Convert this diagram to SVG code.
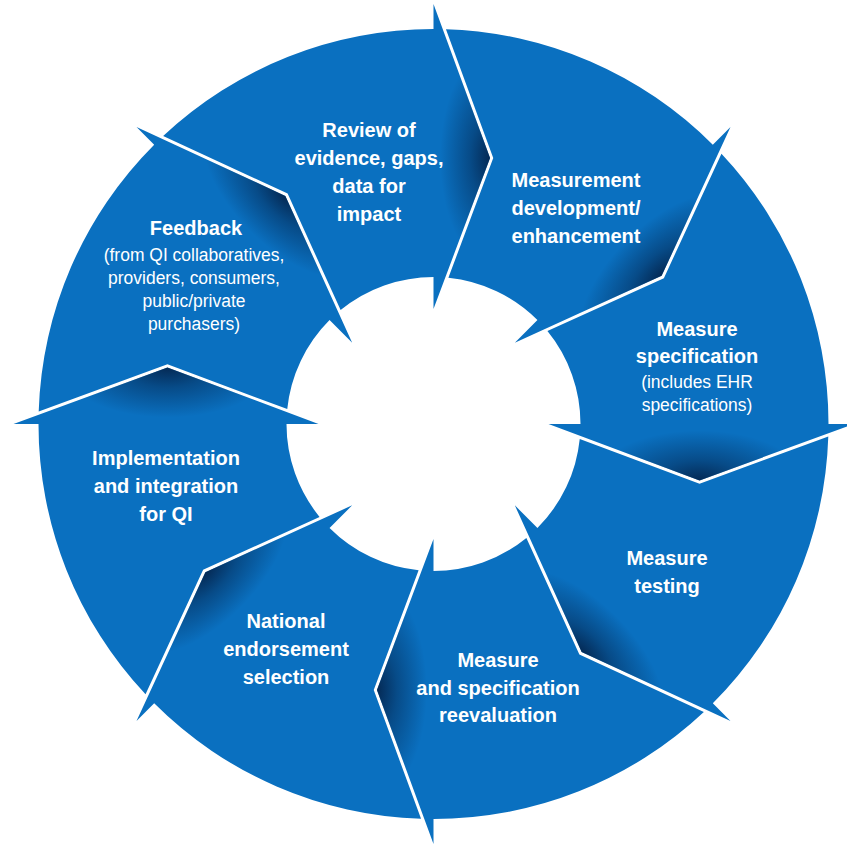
<svg xmlns="http://www.w3.org/2000/svg" width="847" height="845" viewBox="0 0 847 845">
<style>
.seg{fill:#0a70c0}
.shade{fill:url(#shade)}
.b{font-family:"Liberation Sans",Arial,sans-serif;font-weight:bold;font-size:20px;fill:#ffffff;text-anchor:middle}
.r{font-family:"Liberation Sans",Arial,sans-serif;font-size:19px;fill:#ffffff;text-anchor:middle}
</style>
<defs>
<radialGradient id="shade" gradientUnits="userSpaceOnUse" cx="0" cy="0" r="1" gradientTransform="translate(266.06 56.55) scale(105 50)">
<stop offset="0" stop-color="#03183a" stop-opacity="0.8"/>
<stop offset="0.4" stop-color="#03183a" stop-opacity="0.42"/>
<stop offset="1" stop-color="#03183a" stop-opacity="0"/>
</radialGradient>
<path id="segShape" d="M287.97 -270.36A395 395 0 0 1 395 0L420 0L266.06 56.55L115 0L147 0A147 147 0 0 0 113.94 -92.88L230.38 -145.87Z"/>
<path id="shadeShape" d="M420 0L266.06 56.55L115 0Z"/>
</defs>
<rect width="847" height="845" fill="#ffffff"/>
<g id="review">
<g transform="translate(433.5 424) rotate(-90)"><use href="#segShape" class="seg"/><use href="#shadeShape" class="shade"/></g>
<text class="b"><tspan x="369" y="137">Review of</tspan><tspan x="369" y="165">evidence, gaps,</tspan><tspan x="369" y="193">data for</tspan><tspan x="369" y="221">impact</tspan></text>
</g>
<g id="measurement-development">
<g transform="translate(433.5 424) rotate(-45)"><use href="#segShape" class="seg"/><use href="#shadeShape" class="shade"/></g>
<text class="b"><tspan x="576" y="187">Measurement</tspan><tspan x="576" y="215">development/</tspan><tspan x="576" y="243">enhancement</tspan></text>
</g>
<g id="measure-specification">
<g transform="translate(433.5 424)"><use href="#segShape" class="seg"/><use href="#shadeShape" class="shade"/></g>
<text class="b"><tspan x="697" y="336">Measure</tspan><tspan x="697" y="363">specification</tspan></text>
<text class="r" transform="translate(697 0) scale(0.92 1)"><tspan x="0" y="388">(includes EHR</tspan><tspan x="0" y="411">specifications)</tspan></text>
</g>
<g id="measure-testing">
<g transform="translate(433.5 424) rotate(45)"><use href="#segShape" class="seg"/><use href="#shadeShape" class="shade"/></g>
<text class="b"><tspan x="667" y="565">Measure</tspan><tspan x="667" y="593">testing</tspan></text>
</g>
<g id="reevaluation">
<g transform="translate(433.5 424) rotate(90)"><use href="#segShape" class="seg"/><use href="#shadeShape" class="shade"/></g>
<text class="b"><tspan x="498" y="667">Measure</tspan><tspan x="498" y="695">and specification</tspan><tspan x="498" y="722">reevaluation</tspan></text>
</g>
<g id="national-endorsement">
<g transform="translate(433.5 424) rotate(135)"><use href="#segShape" class="seg"/><use href="#shadeShape" class="shade"/></g>
<text class="b"><tspan x="286" y="628">National</tspan><tspan x="286" y="656">endorsement</tspan><tspan x="286" y="684">selection</tspan></text>
</g>
<g id="implementation">
<g transform="translate(433.5 424) rotate(180)"><use href="#segShape" class="seg"/><use href="#shadeShape" class="shade"/></g>
<text class="b"><tspan x="166" y="465">Implementation</tspan><tspan x="166" y="493">and integration</tspan><tspan x="166" y="521">for QI</tspan></text>
</g>
<g id="feedback">
<g transform="translate(433.5 424) rotate(225)"><use href="#segShape" class="seg"/><use href="#shadeShape" class="shade"/></g>
<text class="b"><tspan x="196" y="235">Feedback</tspan></text>
<text class="r" transform="translate(194 0) scale(0.92 1)"><tspan x="0" y="261">(from QI collaboratives,</tspan><tspan x="0" y="284">providers, consumers,</tspan><tspan x="0" y="307">public/private</tspan><tspan x="0" y="330">purchasers)</tspan></text>
</g>
<g id="connectors"/>
</svg>
